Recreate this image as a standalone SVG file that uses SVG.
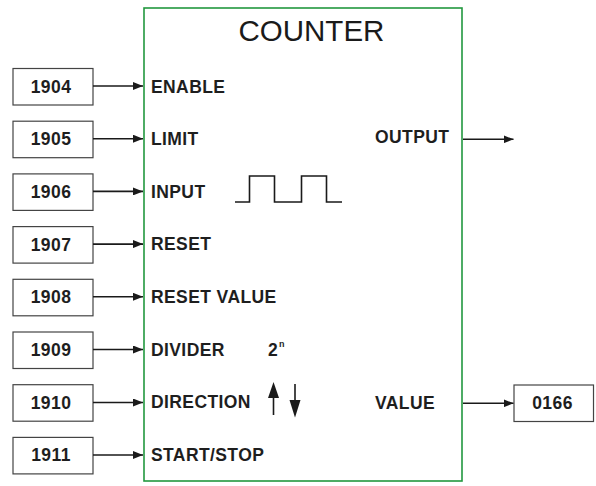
<svg xmlns="http://www.w3.org/2000/svg" width="596" height="486" viewBox="0 0 596 486">
<style>
.lbl{font-family:"Liberation Sans",Arial,sans-serif;font-size:17.5px;font-weight:bold;fill:#1e1e1e;letter-spacing:0.4px}
.num{font-family:"Liberation Sans",Arial,sans-serif;font-size:17.5px;font-weight:bold;fill:#1e1e1e;text-anchor:middle;letter-spacing:0.4px}
.title{font-family:"Liberation Sans",Arial,sans-serif;font-size:29.5px;fill:#1a1a1a}
.box{fill:#fff;stroke:#444;stroke-width:1.2}
.wire{stroke:#1a1a1a;stroke-width:1.6;fill:none}
</style>
<defs>
<marker id="ah" markerWidth="10" markerHeight="8" refX="10" refY="4" orient="auto" markerUnits="userSpaceOnUse">
<path d="M0,0 L10,4 L0,8 Z" fill="#1a1a1a"/>
</marker>
</defs>
<rect width="596" height="486" fill="#fff"/>
<g id="counter">
<rect x="144" y="8" width="318" height="473" fill="#fff" stroke="#22983f" stroke-width="1.6"/>
<text class="title" x="238.5" y="41">COUNTER</text>
<text class="lbl" x="151" y="92.5">ENABLE</text>
<text class="lbl" x="151" y="145">LIMIT</text>
<text class="lbl" x="151" y="197.7">INPUT</text>
<text class="lbl" x="151" y="250.4">RESET</text>
<text class="lbl" x="151" y="303.1">RESET VALUE</text>
<text class="lbl" x="151" y="355.8">DIVIDER</text>
<text class="lbl" x="151" y="408">DIRECTION</text>
<text class="lbl" x="151" y="461.2">START/STOP</text>
<text class="lbl" x="375" y="143">OUTPUT</text>
<text class="lbl" x="375" y="409">VALUE</text>
<text class="lbl" x="268" y="356" style="letter-spacing:0">2</text>
<text class="lbl" x="279" y="347" style="font-size:9px;letter-spacing:0">n</text>
<polyline class="wire" points="235,202 249.5,202 249.5,176 274.5,176 274.5,202 301.5,202 301.5,176 326.5,176 326.5,202 342,202" stroke-width="1.4"/>
<line x1="273.5" y1="415" x2="273.5" y2="396" stroke="#1a1a1a" stroke-width="1.6"/>
<path d="M273.5,382 L279,398 L268,398 Z" fill="#1a1a1a"/>
<line x1="295" y1="384" x2="295" y2="402" stroke="#1a1a1a" stroke-width="1.6"/>
<path d="M295,417.5 L300.5,400 L289.5,400 Z" fill="#1a1a1a"/>
</g>
<g id="in1904"><rect class="box" x="13" y="68.5" width="80" height="36.5"/><text class="num" x="51" y="92.5">1904</text></g>
<g id="in1905"><rect class="box" x="13" y="121.2" width="80" height="36.5"/><text class="num" x="51" y="145.2">1905</text></g>
<g id="in1906"><rect class="box" x="13" y="173.9" width="80" height="36.5"/><text class="num" x="51" y="197.9">1906</text></g>
<g id="in1907"><rect class="box" x="13" y="226.6" width="80" height="36.5"/><text class="num" x="51" y="250.6">1907</text></g>
<g id="in1908"><rect class="box" x="13" y="279.3" width="80" height="36.5"/><text class="num" x="51" y="303.3">1908</text></g>
<g id="in1909"><rect class="box" x="13" y="332" width="80" height="36.5"/><text class="num" x="51" y="356">1909</text></g>
<g id="in1910"><rect class="box" x="13" y="384.7" width="80" height="36.5"/><text class="num" x="51" y="408.7">1910</text></g>
<g id="in1911"><rect class="box" x="13" y="437.4" width="80" height="36.5"/><text class="num" x="51" y="461.4">1911</text></g>
<g id="out0166"><rect class="box" x="514" y="385" width="79.5" height="36.5"/><text class="num" x="552.5" y="409">0166</text></g>
<g id="connectors">
<line class="wire" x1="93" y1="86" x2="143" y2="86" marker-end="url(#ah)"/>
<line class="wire" x1="93" y1="138.7" x2="143" y2="138.7" marker-end="url(#ah)"/>
<line class="wire" x1="93" y1="191.4" x2="143" y2="191.4" marker-end="url(#ah)"/>
<line class="wire" x1="93" y1="244.1" x2="143" y2="244.1" marker-end="url(#ah)"/>
<line class="wire" x1="93" y1="296.8" x2="143" y2="296.8" marker-end="url(#ah)"/>
<line class="wire" x1="93" y1="349.5" x2="143" y2="349.5" marker-end="url(#ah)"/>
<line class="wire" x1="93" y1="402.5" x2="143" y2="402.5" marker-end="url(#ah)"/>
<line class="wire" x1="93" y1="455" x2="143" y2="455" marker-end="url(#ah)"/>
<line class="wire" x1="463" y1="139.3" x2="513.5" y2="139.3" marker-end="url(#ah)"/>
<line class="wire" x1="463" y1="403.3" x2="513.5" y2="403.3" marker-end="url(#ah)"/>
</g>
</svg>
